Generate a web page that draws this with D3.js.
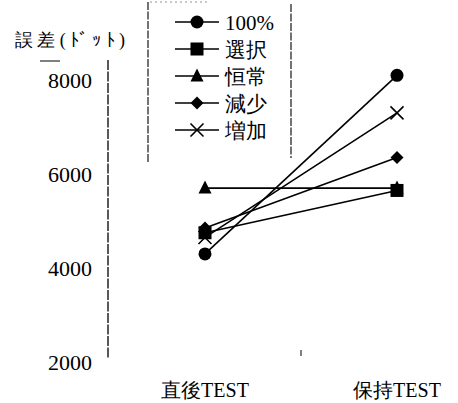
<!DOCTYPE html>
<html><head><meta charset="utf-8">
<script src="https://cdn.jsdelivr.net/npm/d3@7"></script>
<style>
html,body{margin:0;padding:0;background:#fff;}
</style></head>
<body>
<svg id="c" width="458" height="403"></svg>
<script>
const categories = ["直後TEST", "保持TEST"];
const seriesNames = ["100%", "選択", "恒常", "減少", "増加"];
const seriesSymbols = ["circle", "square", "triangle", "diamond", "cross"];
const v100 = [4300, 8100];
const vSentaku = [4750, 5650];
const vKojo = [5700, 5700];
const vGensho = [4850, 6350];
const vZoka = [4650, 7300];
const yTicks = [2000, 4000, 6000, 8000];
const yTitle = "誤差(ﾄﾞｯﾄ)";

const series = [v100, vSentaku, vKojo, vGensho, vZoka];
const FONT = "Liberation Serif";

const svg = d3.select("#c");
const x = d3.scalePoint().domain(categories).range([205, 397]);
const y = d3.scaleLinear().domain([2000, 8000]).range([362, 80]);

// y axis line
svg.append("line").attr("x1",108).attr("x2",108).attr("y1",60).attr("y2",358)
  .attr("stroke","#000").attr("stroke-width",1.3).attr("stroke-dasharray","10,1.5");
svg.append("line").attr("x1",40).attr("x2",60).attr("y1",61).attr("y2",61)
  .attr("stroke","#000").attr("stroke-width",1);

// y tick labels
svg.selectAll("text.yt").data(yTicks).enter().append("text")
  .attr("class","yt").attr("x",92).attr("y",d=>y(d)+8)
  .attr("text-anchor","end").attr("font-family",FONT).attr("font-size",22).text(d=>d);

// y title
svg.append("text").attr("x",15).attr("y",46).attr("font-family",FONT).attr("font-size",18)
  .attr("textLength",110).attr("lengthAdjust","spacing").text(yTitle);

// x labels
svg.selectAll("text.xl").data(categories).enter().append("text")
  .attr("class","xl").attr("x",d=>x(d)).attr("y",397)
  .attr("text-anchor","middle").attr("font-family",FONT).attr("font-size",20).text(d=>d);

// small x tick
svg.append("line").attr("x1",301).attr("x2",301).attr("y1",350).attr("y2",356)
  .attr("stroke","#000").attr("stroke-width",1);

// legend box borders (left/right)
svg.append("line").attr("x1",148).attr("x2",148).attr("y1",2).attr("y2",162)
  .attr("stroke","#000").attr("stroke-width",1.1).attr("stroke-dasharray","8,1.5");
svg.append("line").attr("x1",291).attr("x2",291).attr("y1",4).attr("y2",158)
  .attr("stroke","#000").attr("stroke-width",1.1).attr("stroke-dasharray","8,1.5");
svg.append("line").attr("x1",150).attr("x2",210).attr("y1",2).attr("y2",2)
  .attr("stroke","#777").attr("stroke-width",0.8).attr("stroke-dasharray","2,3");

function marker(g, type, cx, cy){
  const s = 6.5;
  if(type==="circle") g.append("circle").attr("cx",cx).attr("cy",cy).attr("r",s).attr("fill","#000");
  else if(type==="square") g.append("rect").attr("x",cx-s).attr("y",cy-s).attr("width",2*s).attr("height",2*s).attr("fill","#000");
  else if(type==="triangle") g.append("path").attr("d",`M${cx},${cy-s-1}L${cx+s},${cy+s-1}L${cx-s},${cy+s-1}Z`).attr("fill","#000");
  else if(type==="diamond") g.append("path").attr("d",`M${cx},${cy-s}L${cx+s},${cy}L${cx},${cy+s}L${cx-s},${cy}Z`).attr("fill","#000");
  else if(type==="cross") g.append("path").attr("d",`M${cx-s},${cy-s}L${cx+s},${cy+s}M${cx+s},${cy-s}L${cx-s},${cy+s}`).attr("stroke","#000").attr("stroke-width",1.6).attr("fill","none");
}

const line = d3.line().x((d,i)=>x(categories[i])).y(d=>y(d));
series.forEach((vals, k)=>{
  svg.append("path").attr("d", line(vals)).attr("fill","none").attr("stroke","#000").attr("stroke-width",1.6);
});
[2,4,3,0,1].forEach(k=>{
  series[k].forEach((v,i)=>marker(svg, seriesSymbols[k], x(categories[i]), y(v)));
});

// legend
const legY = d3.scalePoint().domain(seriesNames).range([22, 130]);
seriesNames.forEach((n,k)=>{
  const ly = legY(n);
  svg.append("line").attr("x1",175).attr("x2",219).attr("y1",ly).attr("y2",ly).attr("stroke","#000").attr("stroke-width",1.6);
  marker(svg, seriesSymbols[k], 197, ly);
  svg.append("text").attr("x",225).attr("y",ly+8).attr("font-family",FONT).attr("font-size",21).text(n);
});
</script>
</body></html>
